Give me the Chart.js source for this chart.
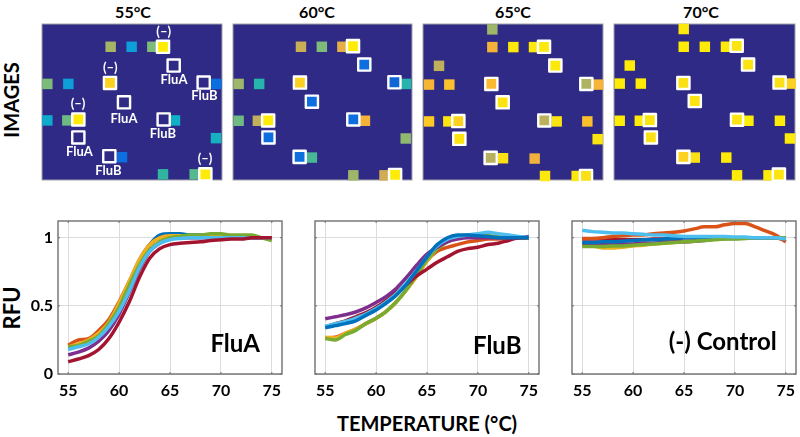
<!DOCTYPE html>
<html>
<head>
<meta charset="utf-8">
<script src="https://cdn.jsdelivr.net/npm/chart.js@4/dist/chart.umd.min.js"></script>
<style>
  html,body{margin:0;padding:0;background:#fff;width:800px;height:437px;overflow:hidden}
  canvas{position:absolute}
  .lbl{position:absolute;font-family:Lato,sans-serif;font-weight:700;color:#000;white-space:nowrap;transform:translate(-50%,-50%)}
  .rot{transform:translate(-50%,-50%) rotate(-90deg)}
</style>
</head>
<body>
<div class="lbl" style="left:133px;top:11px;font-size:16px">55°C</div>
<div class="lbl" style="left:317px;top:11px;font-size:16px">60°C</div>
<div class="lbl" style="left:513px;top:11px;font-size:16px">65°C</div>
<div class="lbl" style="left:701px;top:11px;font-size:16px">70°C</div>
<div class="lbl rot" style="left:11px;top:100px;font-size:20px">IMAGES</div>
<div class="lbl rot" style="left:11px;top:308px;font-size:22px">RFU</div>
<div class="lbl" style="left:427px;top:423px;font-size:20px">TEMPERATURE (°C)</div>

<canvas id="img55" width="196" height="172" style="left:34px;top:16px"></canvas>
<canvas id="img60" width="195" height="172" style="left:225px;top:16px"></canvas>
<canvas id="img65" width="196" height="172" style="left:415px;top:16px"></canvas>
<canvas id="img70" width="197" height="172" style="left:605.5px;top:15.5px"></canvas>
<canvas id="plotA" width="262" height="190" style="left:28px;top:213px"></canvas>
<canvas id="plotB" width="262" height="190" style="left:285px;top:213px"></canvas>
<canvas id="plotC" width="262" height="190" style="left:542px;top:213px"></canvas>

<script>
// --- chip images: spots and boxed wells, [x, y, intensity] in chip units (540 x 466)
const spots55 = [[206,68,.70],[269,68,.30],[331,68,.6],[16,179,.6],[79,179,.30],[523,179,.17],[399,288,.4],[16,288,.37],[76,288,.58],[522,341,.42],[240,398,.17],[363,449,.5],[458,449,.55]];
const wells55 = [[363,68,1],[395,124,0],[485,175,0],[204,176,.95],[246,234,0],[365,285,0],[109,285,1],[109,339,0],[202,395,0],[490,449,1]];
const spots60 = [[205,68,.78],[268,68,.6],[330,68,.84],[17,179,.68],[79,179,.47],[522,179,.47],[398,289,.87],[17,289,.58],[75,289,.76],[521,342,.65],[238,399,.53],[363,452,.68],[457,452,.8]];
const wells60 = [[362,66,1],[396,121,.17],[487,174,.15],[202,175,.95],[238,232,.17],[363,285,.17],[106,288,1],[107,339,.17],[201,397,.17],[489,451,1]];
const spots65 = [[208,16,.68],[208,69,.87],[271,69,.99],[333,69,.99],[48,125,.76],[18,181,.88],[79,181,.92],[525,181,.88],[18,291,.94],[76,291,.98],[401,291,.98],[493,291,.92],[524,344,.98],[240,401,.97],[335,402,.86],[366,454,.99],[461,454,.99]];
const wells65 = [[363,68,.99],[397,124,.99],[205,179,.9],[490,179,.72],[239,234,.98],[106,290,.95],[364,288,.75],[109,343,.98],[203,400,.74],[489,454,.97]];
const spots70 = [[208,15,.99],[208,68,1],[271,68,1],[334,68,1],[47,124,1],[17,178,1],[80,178,1],[527,178,.95],[17,289,1],[77,289,1],[401,289,1],[495,289,1],[525,342,1],[241,399,.97],[335,399,1],[367,452,1],[461,452,1]];
const wells70 = [[366,65,.98],[400,121,.98],[207,176,.97],[494,175,.97],[241,230,.98],[107,287,.98],[367,286,.98],[110,339,.97],[207,397,.95],[492,450,.98]];
const notes55 = [[365,22,'(–)'],[205,132,'(–)'],[108,239,'(–)'],[489,404,'(–)'],[396,167,'FluA'],[246,282,'FluA'],[112,382,'FluA'],[487,216,'FluB'],[363,327,'FluB'],[199,438,'FluB']];

// --- melt curves, one value per degree
const temps = [55,56,57,58,59,60,61,62,63,64,65,66,67,68,69,70,71,72,73,74,75];
const xTicks = [55,60,65,70,75];
const yTicks = [0,0.5,1];

const fluA = {
  blue:    [.19,.21,.24,.29,.37,.50,.66,.83,.95,1.02,1.03,1.03,1.02,1.02,1.015,1.01,1.01,1.01,1,1,1],
  orange:  [.21,.25,.26,.32,.40,.53,.68,.84,.95,1,1.01,1.01,1.01,1.01,1.01,1.01,1.01,1,1,1,1],
  yellow:  [.20,.22,.25,.30,.38,.52,.68,.84,.95,1,1.015,1.015,1.01,1.01,1.01,1.01,1.01,1,1,1,1],
  purple:  [.14,.16,.19,.24,.32,.44,.60,.77,.90,.96,.99,1,1,1,1,1,1,1,1,1,1],
  green:   [.20,.21,.24,.28,.37,.49,.65,.80,.91,.97,1,1.01,1.02,1.02,1.03,1.03,1.02,1.02,1.02,1,.98],
  cyan:    [.18,.20,.22,.27,.35,.46,.61,.78,.90,.96,.985,.995,1,1,1,1,1,1,1,1,1],
  crimson: [.09,.11,.135,.18,.26,.38,.53,.71,.85,.92,.95,.96,.965,.97,.98,.985,.99,.99,1,1,1]
};
const fluB = {
  orange:  [.265,.27,.30,.33,.37,.41,.46,.53,.62,.72,.83,.90,.93,.95,.97,.98,.99,.99,1,1,1],
  yellow:  [.27,.265,.30,.33,.37,.41,.46,.53,.62,.72,.83,.92,.98,1,1.02,1.02,1.01,1.01,1,1,1],
  green:   [.26,.25,.29,.32,.37,.41,.46,.53,.62,.73,.84,.92,.97,1,1.02,1.02,1.015,1.01,1,1,1],
  purple:  [.405,.42,.435,.455,.485,.525,.57,.63,.71,.80,.88,.93,.97,.99,1,1,1,1,1,1,1.01],
  crimson: [.345,.37,.39,.42,.45,.49,.54,.60,.66,.72,.77,.82,.86,.90,.92,.93,.95,.96,.98,1,1],
  cyan:    [.35,.37,.385,.41,.44,.48,.53,.59,.67,.76,.86,.94,.99,1.01,1.02,1.03,1.04,1.03,1.02,1.01,1],
  blue:    [.34,.355,.37,.39,.43,.47,.52,.58,.66,.76,.86,.95,1,1.02,1.02,1.015,1.01,1,1,1,1]
};
const ctrl = {
  crimson: [.99,.99,.99,.985,.985,.985,.985,.99,.99,.995,1,1,1,1,1,1,1,1,1,1,.98],
  orange:  [.995,.995,1,1.01,1.015,1.02,1.02,1.03,1.035,1.04,1.05,1.065,1.08,1.08,1.095,1.105,1.105,1.08,1.05,1.02,.97],
  yellow:  [.945,.94,.925,.925,.93,.94,.945,.955,.96,.965,.97,.975,.985,.99,.995,1,1,1,1,1,.99],
  purple:  [.955,.955,.95,.95,.955,.955,.96,.96,.965,.97,.97,.975,.98,.99,.995,.995,1,1,1,1,.99],
  blue:    [.965,.965,.97,.97,.975,.98,.985,.985,.99,.995,1,1,1,1,1,1,1,1,1,1,1],
  green:   [.935,.935,.935,.94,.94,.945,.95,.955,.96,.965,.97,.975,.98,.985,.99,.99,.995,1,1,1,1],
  cyan:    [1.055,1.045,1.04,1.035,1.035,1.03,1.025,1.02,1.02,1.015,1.01,1.01,1.01,1.01,1.01,1.005,1.005,1,1,1,.99]
};

const lineColors = {blue:'#0072BD',orange:'#D95319',yellow:'#EDB120',purple:'#7E2F8E',green:'#77AC30',cyan:'#4DBEEE',crimson:'#A2142F'};
const NAVY = '#2E2A85';

// --- parula-like ramp
const ramp = [[0,46,42,133],[.17,13,110,224],[.30,15,159,216],[.40,15,176,200],[.50,50,181,160],[.60,125,187,122],[.70,165,181,101],[.80,210,172,85],[.87,245,178,58],[.93,253,194,42],[.97,250,224,20],[1,254,236,8]];
function colorOf(v){
  for(let i=1;i<ramp.length;i++){
    if(v<=ramp[i][0]){
      const a=ramp[i-1],b=ramp[i],t=(v-a[0])/(b[0]-a[0]);
      return `rgb(${[1,2,3].map(k=>Math.round(a[k]+(b[k]-a[k])*t)).join(',')})`;
    }
  }
  return 'rgb(254,236,8)';
}

const toPts = arr => arr.map(p=>({x:p[0],y:p[1],v:p[2]}));

// background + frame behind the chip marks, notes on top
const chipPlugin = {
  id:'chip',
  beforeDatasetsDraw(c){
    const a=c.chartArea,g=c.ctx;
    g.save();
    g.fillStyle=NAVY; g.fillRect(a.left,a.top,a.width,a.height);
    g.strokeStyle='#a3a3a8'; g.lineWidth=1; g.strokeRect(a.left,a.top,a.width,a.height);
    g.restore();
    g.lineJoin='round';
  },
  afterDatasetsDraw(c,args,opts){
    const g=c.ctx;
    g.save();
    g.fillStyle='#fff'; g.font='700 13px Lato'; g.textAlign='center'; g.textBaseline='middle';
    (opts.notes||[]).forEach(n=>g.fillText(n[2],c.scales.x.getPixelForValue(n[0]),c.scales.y.getPixelForValue(n[1])));
    g.restore();
  }
};

function chip(id,spots,wells,notes){
  new Chart(document.getElementById(id),{
    type:'scatter',
    data:{datasets:[
      {data:toPts(wells),clip:false,pointStyle:'rect',pointRadius:8.6,pointBorderWidth:2.4,pointBorderColor:'#fff',
       pointBackgroundColor:x=>colorOf(x.raw.v)},
      {data:toPts(spots),clip:false,pointStyle:'rect',pointRadius:7.4,pointBorderWidth:0,
       pointBackgroundColor:x=>colorOf(x.raw.v)}
    ]},
    options:{
      responsive:false,animation:false,
      layout:{padding:8,autoPadding:false},
      plugins:{legend:{display:false},tooltip:{enabled:false},chip:{notes:notes}},
      scales:{
        x:{display:false,min:0,max:540},
        y:{display:false,min:0,max:466,reverse:true}
      }
    },
    plugins:[chipPlugin]
  });
}
chip('img55',spots55,wells55,notes55);
chip('img60',spots60,wells60);
chip('img65',spots65,wells65);
chip('img70',spots70,wells70);

// frame, inner tick marks and the panel name
const framePlugin = {
  id:'frame',
  afterDraw(c,args,opts){
    const a=c.chartArea,g=c.ctx,sx=c.scales.x,sy=c.scales.y;
    g.save();
    g.strokeStyle='#6f6f6f'; g.lineWidth=1.4;
    g.strokeRect(a.left,a.top,a.width,a.height);
    g.beginPath();
    sx.ticks.forEach(t=>{const p=sx.getPixelForValue(t.value);g.moveTo(p,a.bottom);g.lineTo(p,a.bottom-2);g.moveTo(p,a.top);g.lineTo(p,a.top+2);});
    sy.ticks.forEach(t=>{const p=sy.getPixelForValue(t.value);g.moveTo(a.left,p);g.lineTo(a.left+2,p);g.moveTo(a.right,p);g.lineTo(a.right-2,p);});
    g.lineWidth=1; g.stroke();
    g.fillStyle='#000'; g.font='700 24px Lato'; g.textAlign='center'; g.textBaseline='middle';
    g.fillText(opts.name,sx.getPixelForValue(opts.at[0]),sy.getPixelForValue(opts.at[1]));
    g.restore();
  }
};

// the ticks would otherwise push the plot area in by half a label
const noPad = s => { s.paddingTop=0; s.paddingBottom=0; s.paddingLeft=0; s.paddingRight=0; };

function melt(id,series,name,at,showY,pad){
  const names=Object.keys(series).reverse(); // first dataset paints on top
  new Chart(document.getElementById(id),{
    type:'line',
    data:{labels:temps,datasets:names.map(n=>({
      data:temps.map((t,i)=>({x:t,y:series[n][i]})),
      borderColor:lineColors[n],borderWidth:3.5,pointRadius:0,cubicInterpolationMode:'monotone'
    }))},
    options:{
      responsive:false,animation:false,
      layout:{padding:pad,autoPadding:false},
      plugins:{legend:{display:false},tooltip:{enabled:false},frame:{name:name,at:at}},
      scales:{
        x:{type:'linear',min:54,max:76,
          afterBuildTicks:s=>{s.ticks=xTicks.map(v=>({value:v}));},
          afterFit:s=>{s.height=28;noPad(s);},
          grid:{color:'#dcdcdc',drawTicks:false},border:{display:false},
          ticks:{color:'#000',padding:7,maxRotation:0,font:{family:'Lato',weight:'700',size:16},callback:v=>String(v)}},
        y:{min:0,max:1.123,
          afterBuildTicks:s=>{s.ticks=yTicks.map(v=>({value:v}));},
          afterFit:s=>{s.width=30;noPad(s);},
          grid:{color:'#dcdcdc',drawTicks:false},border:{display:false},
          ticks:{color:'#000',padding:5,font:{family:'Lato',weight:'700',size:16},callback:v=>showY?String(v):''}}
      }
    },
    plugins:[framePlugin]
  });
}
melt('plotA',fluA,'FluA',[71.4,.22],true,{left:0,top:8,right:8,bottom:1});
melt('plotB',fluB,'FluB',[71.9,.207],false,{left:0,top:8,right:8,bottom:1});
melt('plotC',ctrl,'(-) Control',[68.8,.236],false,{left:0,top:8,right:8,bottom:1});
</script>
</body>
</html>
